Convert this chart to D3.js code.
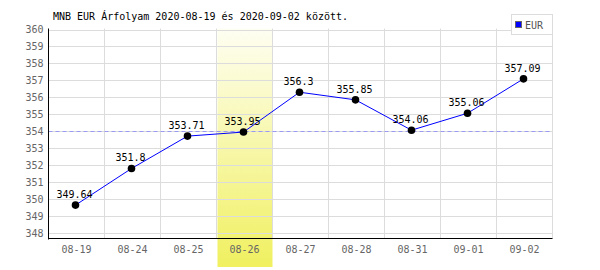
<!DOCTYPE html>
<html><head><meta charset="utf-8">
<script src="https://cdn.jsdelivr.net/npm/d3@7"></script>
<style>body{margin:0;background:#fff}</style>
</head><body>
<svg id="c" width="600" height="270"></svg>
<script>
const categories = ["08-19","08-24","08-25","08-26","08-27","08-28","08-31","09-01","09-02"];
const values = [349.64, 351.8, 353.71, 353.95, 356.3, 355.85, 354.06, 355.06, 357.09];
const yTicks = [348,349,350,351,352,353,354,355,356,357,358,359,360];
const refValue = 354;
const highlight = "08-26";
const title = "MNB EUR Árfolyam 2020-08-19 és 2020-09-02 között.";
const seriesName = "EUR";

const svg = d3.select("#c");
const L = 48.5, R = 552.5, T = 29.5, B = 238.5;
const font = "DejaVu Sans Mono";

const x = d3.scaleBand().domain(categories).range([L, R]);
const y = d3.scaleLinear().domain([347.67, 360]).range([B, T]);

const defs = svg.append("defs");
const g = defs.append("linearGradient").attr("id","hl").attr("x1",0).attr("y1",0).attr("x2",0).attr("y2",1);
g.append("stop").attr("offset","0%").attr("stop-color","#fefef2");
g.append("stop").attr("offset","100%").attr("stop-color","#f0f060");

// highlight band
svg.append("rect")
  .attr("x", x(highlight)+1).attr("y", T-1)
  .attr("width", x.bandwidth()-1).attr("height", 267 - (T-1))
  .attr("fill","url(#hl)");

// horizontal grid
svg.append("g").selectAll("line").data(yTicks).join("line")
  .attr("x1", L).attr("x2", R)
  .attr("y1", d=>Math.round(y(d))+0.5).attr("y2", d=>Math.round(y(d))+0.5)
  .attr("stroke","#dcdcdc");
// vertical grid
svg.append("g").selectAll("line").data(categories.slice(1).concat(["__end"])).join("line")
  .attr("x1", (d,i)=> (i<categories.length-1? Math.round(x(d)) : Math.round(R)) - 0.5)
  .attr("x2", (d,i)=> (i<categories.length-1? Math.round(x(d)) : Math.round(R)) - 0.5)
  .attr("y1", T-1).attr("y2", B)
  .attr("stroke","#dcdcdc");

// reference dashed line
svg.append("line")
  .attr("x1", L).attr("x2", R)
  .attr("y1", Math.round(y(refValue))+0.5).attr("y2", Math.round(y(refValue))+0.5)
  .attr("stroke","#9a9af0").attr("stroke-dasharray","4,3");

// axes
const yAxis = d3.axisLeft(y).tickValues(yTicks).tickSize(0).tickPadding(5).tickFormat(d3.format("d"));
const ya = svg.append("g").attr("transform",`translate(${L},0)`).call(yAxis);
ya.select(".domain").remove();
ya.selectAll("text").attr("font-family",font).attr("font-size",10).attr("fill","#666").attr("x",-5);

const xAxis = d3.axisBottom(x).tickSize(0).tickPadding(7);
const xa = svg.append("g").attr("transform",`translate(0,${B})`).call(xAxis);
xa.select(".domain").remove();
xa.selectAll("text").attr("font-family",font).attr("font-size",10).attr("fill","#666");

svg.append("line").attr("x1",L).attr("x2",L).attr("y1",T-1).attr("y2",B+1).attr("stroke","#000");
svg.append("line").attr("x1",L).attr("x2",R).attr("y1",B).attr("y2",B).attr("stroke","#000");

const cx = d => x(d) + x.bandwidth()/2 - 1;
const data = categories.map((c,i)=>({c, v:values[i]}));

// line
svg.append("path").datum(data)
  .attr("d", d3.line().x(d=>cx(d.c)).y(d=>y(d.v)))
  .attr("fill","none").attr("stroke","#0000ff").attr("stroke-width",1);

// points
svg.append("g").selectAll("circle").data(data).join("circle")
  .attr("cx", d=>cx(d.c)).attr("cy", d=>y(d.v)).attr("r",3.8).attr("fill","#000");

// labels
svg.append("g").selectAll("text").data(data).join("text")
  .attr("x", d=>cx(d.c)-1).attr("y", d=>y(d.v)-7)
  .attr("text-anchor","middle").attr("font-family",font).attr("font-size",10).attr("fill","#000")
  .text(d=>String(d.v));

// title
svg.append("text").attr("x",53).attr("y",20).attr("font-family",font).attr("font-size",10).attr("fill","#000").text(title);

// legend
svg.append("rect").attr("x",511.5).attr("y",14.5).attr("width",41).attr("height",20).attr("fill","#fff").attr("stroke","#dcdcdc");
svg.append("rect").attr("x",515.5).attr("y",21.5).attr("width",6).attr("height",6).attr("fill","#0000ff").attr("stroke","#666");
svg.append("text").attr("x",525).attr("y",29).attr("font-family",font).attr("font-size",10).attr("fill","#555").text(seriesName);
</script>
</body></html>
